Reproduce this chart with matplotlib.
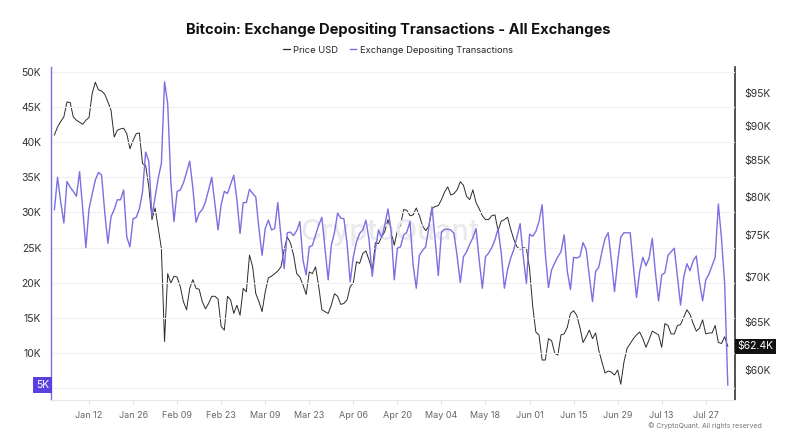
import matplotlib
matplotlib.use("Agg")
import matplotlib.pyplot as plt
import matplotlib.dates as mdates
import matplotlib.ticker as mticker
import pandas as pd
import numpy as np

plt.rcParams['font.family'] = ['Inter', 'DejaVu Sans']

start_date = "2025-01-01"

# Exchange depositing transactions (thousands), daily
deposits_k = [
    30.4, 35.0, 31.5, 28.5, 34.4, 33.6, 33.0, 32.3, 35.8, 30.5, 25.0, 30.5, 32.6, 34.6, 35.7, 35.3,
    30.0, 25.6, 29.4, 30.4, 31.8, 31.8, 33.2, 26.5, 25.1, 29.1, 29.3, 30.5, 32.9, 38.6, 37.3,
    29.4, 32.2, 34.9, 37.0, 48.6, 45.5, 34.4, 28.7, 33.0, 33.2, 34.2, 35.7, 37.3, 33.5, 28.6,
    29.9, 30.4, 31.5, 33.2, 35.0, 31.2, 27.5, 31.1, 33.0, 32.7, 34.0, 35.3, 31.8, 27.0,
    31.4, 31.4, 33.3, 32.7, 32.2, 27.7, 23.9, 27.7, 28.9, 27.5, 27.7, 31.4, 26.5, 22.0, 27.1,
    27.2, 26.7, 27.4, 28.7, 23.2, 21.1, 25.1, 25.3, 26.8, 28.2, 29.3, 24.9, 20.4, 25.3, 27.1,
    29.9, 29.2, 29.1, 25.6, 20.1, 23.7, 25.8, 27.0, 27.5, 28.9, 26.1, 20.9, 24.7, 27.5, 26.4,
    28.2, 30.5, 27.5, 20.4, 24.9, 25.1, 26.8, 27.2, 28.7, 22.5, 19.2, 23.9, 24.6, 25.1, 28.0,
    30.8, 26.1, 21.0, 27.2, 27.6, 27.6, 27.5, 27.0, 23.7, 20.0, 23.7, 24.4, 25.5, 26.4, 27.7,
    23.2, 19.2, 23.7, 24.2, 25.0, 26.1, 27.7, 24.2, 19.2, 21.8, 23.5, 24.7, 26.5, 28.4, 23.7,
    19.9, 26.9, 26.6, 27.3, 28.7, 31.1, 24.2, 19.3, 21.8, 22.8, 23.7, 24.4, 26.8, 21.6, 19.0,
    23.6, 23.5, 23.7, 25.7, 24.7, 20.9, 17.3, 21.6, 22.2, 24.4, 26.3, 27.1, 23.2, 18.7, 23.0,
    26.5, 27.1, 27.1, 27.1, 22.3, 17.9, 21.6, 23.6, 22.4, 23.5, 26.3, 21.4, 17.4, 21.1, 21.4,
    23.9, 24.4, 24.9, 20.9, 16.8, 20.8, 22.7, 21.7, 23.1, 23.8, 20.1, 17.4, 20.4, 21.2, 22.4,
    23.6, 31.2, 26.3, 19.9, 5.4,
]

# Price USD (thousands), daily
price_k = [
    88.6, 89.8, 90.6, 91.3, 93.6, 93.5, 91.3, 90.8, 90.5, 90.2, 90.8, 91.2, 94.9, 96.7, 95.5, 95.3,
    94.8, 93.6, 92.3, 88.3, 89.3, 89.5, 89.6, 88.8, 86.6, 87.8, 88.8, 88.9, 84.5, 84.2, 81.3,
    77.0, 78.5, 75.9, 73.4, 62.9, 70.4, 69.3, 70.1, 70.0, 68.9, 67.2, 66.3, 68.7, 69.7, 68.7,
    68.6, 67.2, 66.4, 67.0, 67.8, 67.8, 67.5, 64.5, 64.1, 67.8, 67.4, 65.9, 66.8, 65.7,
    68.7, 68.3, 72.6, 71.2, 68.1, 67.2, 66.1, 68.3, 69.9, 70.1, 70.4, 70.7, 71.2, 73.2, 74.8,
    74.1, 72.6, 70.4, 70.0, 69.1, 68.0, 70.6, 70.4, 71.2, 68.9, 66.3, 66.1, 65.9, 66.8, 68.1,
    67.8, 66.9, 67.0, 67.4, 68.9, 69.3, 71.8, 71.6, 72.8, 73.1, 72.0, 70.7, 74.1, 74.0, 74.8,
    75.5, 77.0, 75.5, 73.8, 75.6, 76.3, 78.3, 78.2, 77.5, 77.6, 78.5, 77.5, 76.2, 75.6, 76.2,
    78.4, 78.7, 78.8, 79.6, 80.6, 81.3, 80.2, 80.4, 80.9, 82.0, 81.5, 80.0, 79.6, 80.9, 79.2,
    78.4, 77.5, 77.0, 77.0, 77.5, 77.6, 75.6, 76.8, 77.0, 77.3, 75.8, 74.5, 73.6, 73.3, 73.5,
    73.4, 71.0, 66.7, 63.9, 63.6, 61.0, 61.0, 63.2, 63.0, 61.7, 61.5, 63.6, 63.7, 64.4, 65.9,
    66.2, 65.7, 64.4, 62.8, 63.4, 64.1, 63.2, 63.8, 62.0, 60.8, 59.7, 59.9, 59.8, 59.5, 60.0,
    58.6, 60.8, 62.2, 62.7, 63.2, 63.6, 63.9, 63.2, 62.3, 63.1, 64.0, 63.8, 63.6, 62.3, 64.8,
    64.6, 63.7, 63.7, 64.6, 64.7, 65.5, 66.3, 65.8, 64.8, 64.0, 64.3, 65.2, 63.7, 63.8, 63.8,
    64.6, 62.8, 62.7, 63.4, 62.4,
]

left_ticks_k = [5, 10, 15, 20, 25, 30, 35, 40, 45, 50]
left_labels = ["5K", "10K", "15K", "20K", "25K", "30K", "35K", "40K", "45K", "50K"]
right_ticks_k = [60, 65, 70, 75, 80, 85, 90, 95]
right_labels = ["$60K", "$65K", "$70K", "$75K", "$80K", "$85K", "$90K", "$95K"]
x_tick_dates = pd.date_range("2025-01-12", "2025-07-27", freq="14D")

title = "Bitcoin: Exchange Depositing Transactions - All Exchanges"
legend_labels = ["Price USD", "Exchange Depositing Transactions"]

PURPLE = "#7a6fe3"
DARK = "#2b2b2b"

dates = pd.date_range(start_date, periods=len(deposits_k), freq="D")

fig = plt.figure(figsize=(7.96, 4.40), dpi=100)
ax = fig.add_axes([0.064, 0.091, 0.859, 0.757])
ax2 = ax.twinx()

ax.set_zorder(ax2.get_zorder() + 1)
ax.patch.set_visible(False)

ax.plot(dates, deposits_k, color=PURPLE, lw=1.0, zorder=3)
ax2.plot(dates, price_k, color=DARK, lw=0.7, zorder=2)

x0 = pd.Timestamp(start_date) - pd.Timedelta(days=1.1)
x1 = pd.Timestamp(start_date) + pd.Timedelta(days=216.2)
ax.set_xlim(x0, x1)

ax.set_ylim(3.29, 50.73)
ax.set_yticks(left_ticks_k)
# the lowest tick is shown by the highlighted last-value box instead
ax.set_yticklabels([""] + left_labels[1:])
ax.grid(axis='y', color='#f1f1f4', lw=0.8)
ax.set_axisbelow(True)

ax2.set_yscale('log')
ax2.set_ylim(57.09, 99.2)
ax2.yaxis.set_major_locator(mticker.FixedLocator(right_ticks_k))
ax2.yaxis.set_minor_locator(mticker.NullLocator())
ax2.set_yticks(right_ticks_k)
ax2.set_yticklabels(right_labels)

ax.set_xticks(x_tick_dates)
ax.xaxis.set_major_formatter(mdates.DateFormatter('%b %d'))

for a in (ax, ax2):
    a.spines['top'].set_visible(False)
ax.spines['left'].set_color(PURPLE)
ax.spines['left'].set_linewidth(1.0)
ax.spines['right'].set_visible(False)
ax.spines['bottom'].set_color('#e6e6e6')
ax2.spines['left'].set_visible(False)
ax2.spines['bottom'].set_visible(False)
ax2.spines['right'].set_color('#333333')
ax2.spines['right'].set_linewidth(1.2)

ax.tick_params(axis='y', length=0, pad=7, labelsize=7.5, labelcolor='#333333')
ax2.tick_params(axis='y', length=0, pad=7, labelsize=7.5, labelcolor='#333333')
ax.tick_params(axis='x', length=3, color='#e0e0e0', pad=5, labelsize=6.5, labelcolor='#666666')

# last-value markers
ax.annotate(left_labels[0], xy=(0, deposits_k[-1]), xycoords=('axes fraction', 'data'),
            xytext=(-1.5, 0), textcoords='offset points', ha='right', va='center',
            fontsize=7.5, color='white',
            bbox=dict(boxstyle='square,pad=0.3', fc='#5a40e0', ec='none'))
ax2.annotate(f"${price_k[-1]:.1f}K", xy=(1, price_k[-1]), xycoords=('axes fraction', 'data'),
             xytext=(2, 0), textcoords='offset points', ha='left', va='center',
             fontsize=7.5, color='white',
             bbox=dict(boxstyle='square,pad=0.25', fc='#111111', ec='none'))

# watermark
fig.text(0.49, 0.472, "CryptoQuant", ha='center', va='center', fontsize=21,
         color='#e9e9ee', zorder=0, fontweight='medium')

fig.text(0.5, 0.932, title, ha='center', va='center', fontsize=10.6,
         fontweight='bold', color='#111111')

handles = [plt.Line2D([], [], color=DARK, lw=0.9),
           plt.Line2D([], [], color=PURPLE, lw=1.0)]
fig.legend(handles, legend_labels, loc='center', bbox_to_anchor=(0.5, 0.886), ncol=2,
           frameon=False, fontsize=6.7, handlelength=0.7, handletextpad=0.4,
           columnspacing=1.2, labelcolor='#222222')

fig.text(0.957, 0.032, "© CryptoQuant. All rights reserved", ha='right', va='center',
         fontsize=5, color='#777777')

fig.savefig("out.png", dpi=100)
